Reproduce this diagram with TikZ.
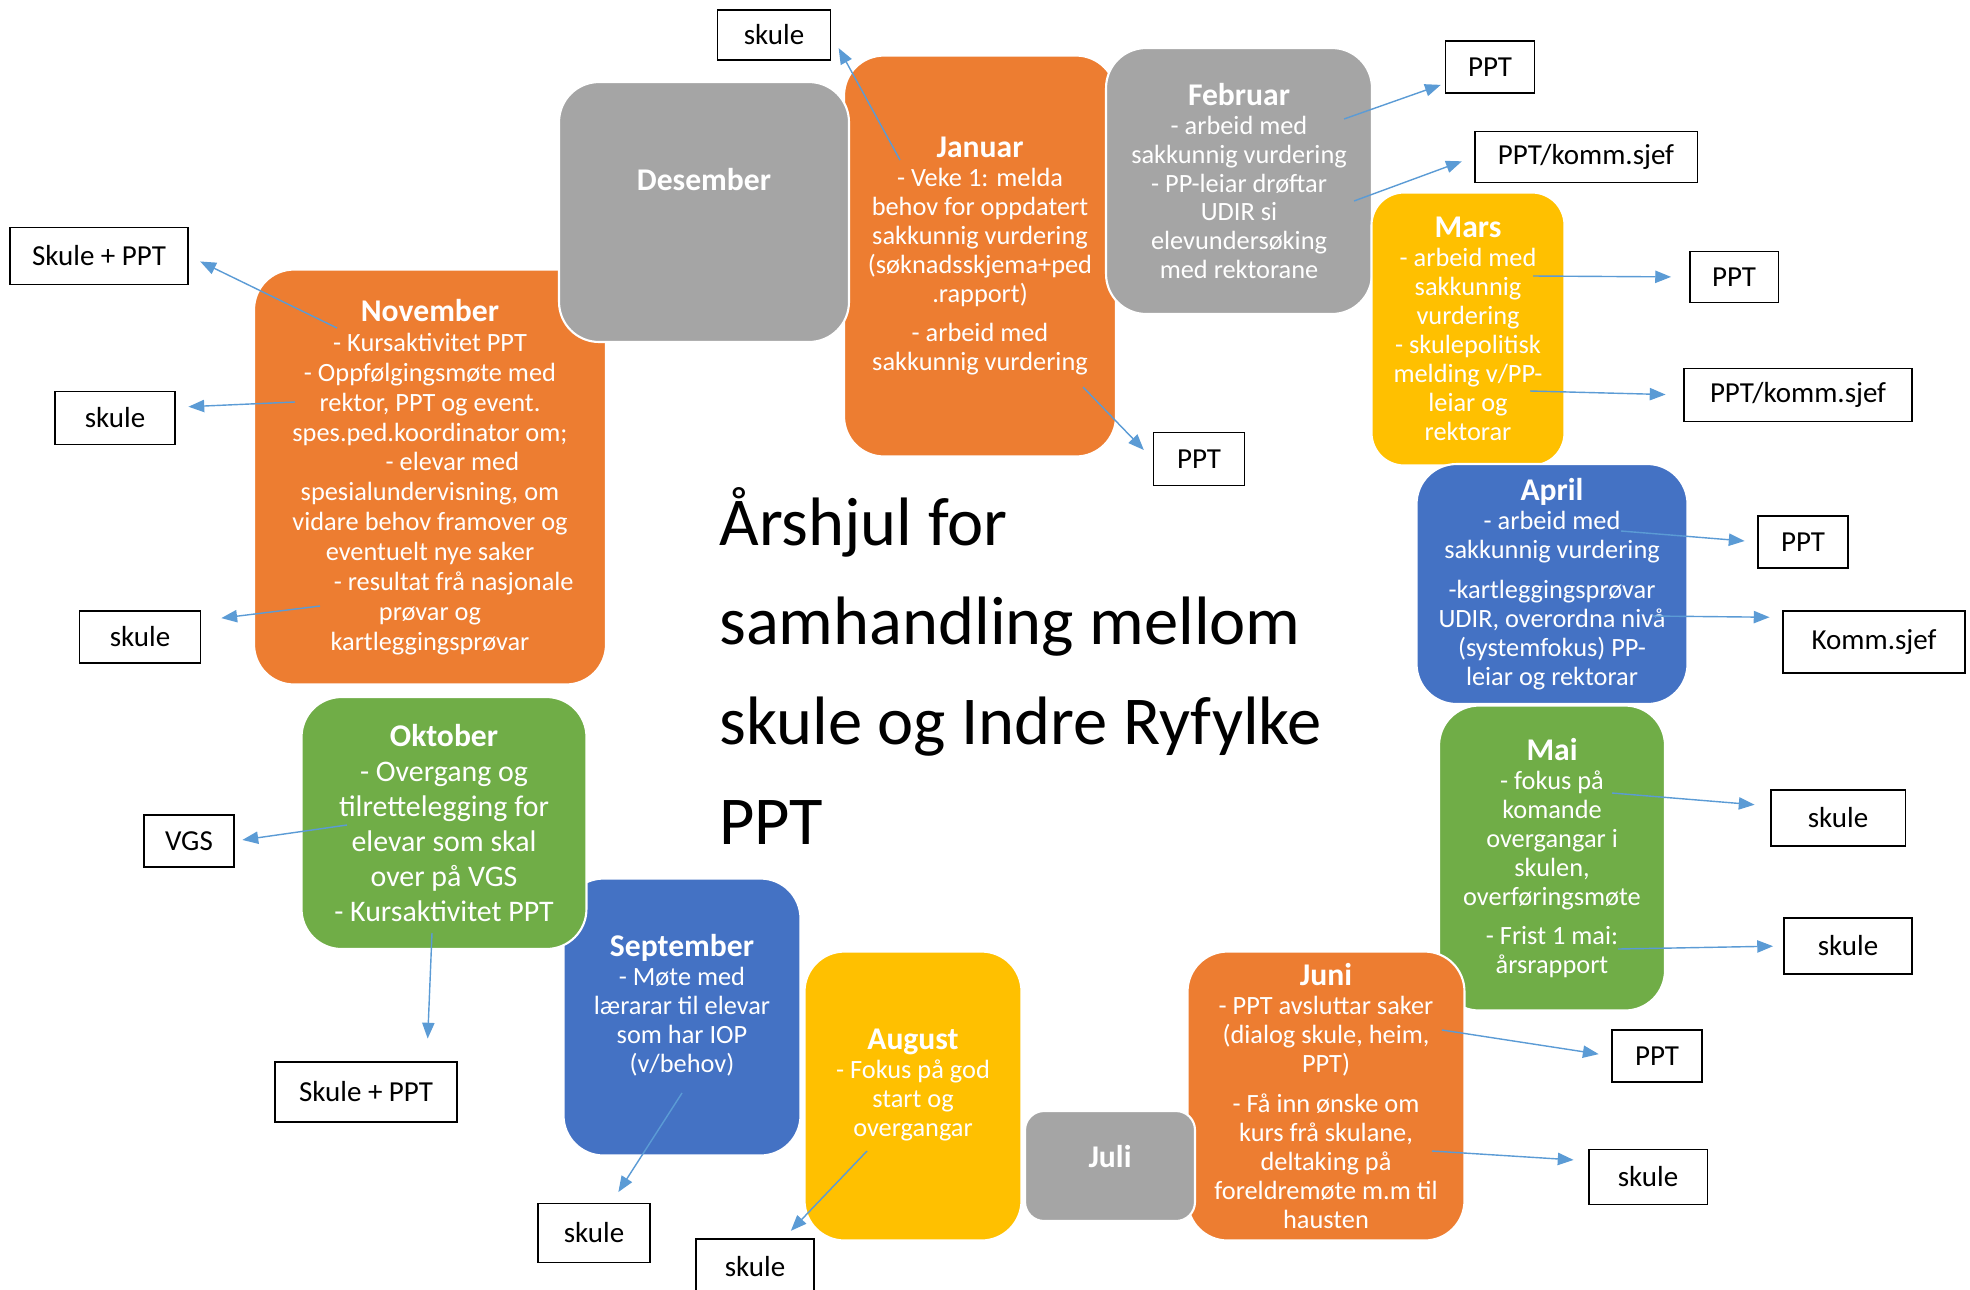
\documentclass[tikz,border=0pt]{standalone}
\usepackage{fontspec}
\setmainfont{Carlito}
\usetikzlibrary{arrows.meta}

\definecolor{cOrange}{HTML}{ED7D31}
\definecolor{cGray}{HTML}{A5A5A5}
\definecolor{cYellow}{HTML}{FFC000}
\definecolor{cBlue}{HTML}{4472C4}
\definecolor{cGreen}{HTML}{70AD47}
\definecolor{cArrow}{HTML}{5B9BD5}

\newcommand{\mth}[1]{{\fontsize{18}{21}\selectfont\bfseries #1}}

\begin{document}
\begin{tikzpicture}[
    x=0.02cm, y=-0.02cm,
    month/.style={rectangle, rounded corners=0.8cm, draw=white, line width=1.2pt, text=white, align=center, inner sep=0pt, font=\fontsize{15}{16.5}\selectfont},
    graybox/.style={month, fill=cGray},
    orangebox/.style={month, fill=cOrange},
    yellowbox/.style={month, fill=cYellow},
    bluebox/.style={month, fill=cBlue},
    greenbox/.style={month, fill=cGreen},
    tag/.style={rectangle, draw=black, line width=1.1pt, fill=white, inner sep=0pt, font=\fontsize{16.5}{20}\selectfont},
    arrow/.style={-{Triangle[length=9pt,width=7pt]}, draw=cArrow, line width=0.8pt}
]
\useasboundingbox (0,0) rectangle (1970,1289);

% months
\node[orangebox, minimum width=7.04cm, minimum height=8.3cm, font=\fontsize{15}{17}\selectfont] (nov) at (430,477) {\mth{November}\\- Kursaktivitet PPT\\- Oppfølgingsmøte med\\rektor, PPT og event.\\spes.ped.koordinator om;\\\hspace*{1.7em}- elevar med\\spesialundervisning, om\\vidare behov framover og\\eventuelt nye saker\\\hspace*{1.8em}- resultat frå nasjonale\\prøvar og\\kartleggingsprøvar};
\node[orangebox, minimum width=5.44cm, minimum height=8.02cm] (jan) at (980,256) {\mth{Januar}\\- Veke 1: melda\\behov for oppdatert\\sakkunnig vurdering\\(søknadsskjema+ped\\.rapport)\\[6pt]- arbeid med\\sakkunnig vurdering};
\node[graybox, minimum width=5.8cm, minimum height=5.2cm, text depth=1.3cm] (des) at (704,212) {\mth{Desember}};
\node[graybox, minimum width=5.32cm, minimum height=5.32cm] (feb) at (1239,181) {\mth{Februar}\\- arbeid med\\sakkunnig vurdering\\- PP-leiar drøftar\\UDIR si\\elevundersøking\\med rektorane};
\node[yellowbox, rounded corners=0.65cm, minimum width=3.86cm, minimum height=5.46cm] (mars) at (1468,329) {\mth{Mars}\\- arbeid med\\sakkunnig\\vurdering\\- skulepolitisk\\melding v/PP-\\leiar og\\rektorar};
\node[bluebox, minimum width=5.42cm, minimum height=4.8cm] (apr) at (1552,584) {\mth{April}\\- arbeid med\\sakkunnig vurdering\\[6pt]-kartleggingsprøvar\\UDIR, overordna nivå\\(systemfokus) PP-\\leiar og rektorar};
\node[greenbox, minimum width=4.52cm, minimum height=6.1cm] (mai) at (1552,858) {\mth{Mai}\\- fokus på\\komande\\overgangar i\\skulen,\\overføringsmøte\\[6pt]- Frist 1 mai:\\årsrapport};
\node[orangebox, minimum width=5.54cm, minimum height=5.78cm] (juni) at (1326,1096) {\mth{Juni}\\- PPT avsluttar saker\\(dialog skule, heim,\\PPT)\\[6pt]- Få inn ønske om\\kurs frå skulane,\\deltaking på\\foreldremøte m.m til\\hausten};
\node[graybox, rounded corners=0.38cm, minimum width=3.4cm, minimum height=2.2cm, text depth=0.4cm] (juli) at (1110,1166) {\mth{Juli}};
\node[yellowbox, minimum width=4.34cm, minimum height=5.78cm] (aug) at (913,1096) {\mth{August}\\- Fokus på god\\start og\\overgangar\\[-1pt]};
\node[bluebox, minimum width=4.74cm, minimum height=5.54cm] (sep) at (682,1017) {\mth{September}\\- Møte med\\lærarar til elevar\\som har IOP\\(v/behov)\\[-1pt]};
\node[greenbox, minimum width=5.7cm, minimum height=5.04cm, font=\fontsize{17}{20}\selectfont] (okt) at (444,823) {\mth{Oktober}\\- Overgang og\\tilrettelegging for\\elevar som skal\\over på VGS\\- Kursaktivitet PPT};

% title
\node[anchor=north west, align=left, inner sep=0pt, font=\fontsize{39}{56.7}\selectfont] (title) at (719,487) {Årshjul for\\samhandling mellom\\skule og Indre Ryfylke\\PPT};

% who
\node[tag, minimum width=2.26cm, minimum height=1.0cm] (skuleJan) at (774,35) {skule};
\node[tag, minimum width=1.82cm, minimum height=1.06cm] (pptJan) at (1199,459) {PPT};
\node[tag, minimum width=1.78cm, minimum height=1.04cm] (pptFeb) at (1490,67) {PPT};
\node[tag, minimum width=4.46cm, minimum height=1.02cm] (kommFeb) at (1586,157) {PPT/komm.sjef};
\node[tag, minimum width=1.78cm, minimum height=1.02cm] (pptMars) at (1734,277) {PPT};
\node[tag, minimum width=4.56cm, minimum height=1.06cm] (kommMars) at (1798,395) {PPT/komm.sjef};
\node[tag, minimum width=1.8cm, minimum height=1.04cm] (pptApr) at (1803,542) {PPT};
\node[tag, minimum width=3.64cm, minimum height=1.24cm] (kommApr) at (1874,642) {Komm.sjef};
\node[tag, minimum width=2.7cm, minimum height=1.12cm] (skuleMaiA) at (1838,818) {skule};
\node[tag, minimum width=2.56cm, minimum height=1.12cm] (skuleMaiB) at (1848,946) {skule};
\node[tag, minimum width=1.8cm, minimum height=1.04cm] (pptJuni) at (1657,1056) {PPT};
\node[tag, minimum width=2.38cm, minimum height=1.1cm] (skuleJuni) at (1648,1177) {skule};
\node[tag, minimum width=2.36cm, minimum height=1.12cm] (skuleAug) at (755,1267) {skule};
\node[tag, minimum width=2.24cm, minimum height=1.18cm] (skuleSep) at (594,1233) {skule};
\node[tag, minimum width=3.64cm, minimum height=1.2cm] (bothOkt) at (366,1092) {Skule + PPT};
\node[tag, minimum width=1.8cm, minimum height=1.04cm] (vgs) at (189,841) {VGS};
\node[tag, minimum width=2.42cm, minimum height=1.04cm] (skuleNovC) at (140,637) {skule};
\node[tag, minimum width=2.4cm, minimum height=1.06cm] (skuleNovB) at (115,418) {skule};
\node[tag, minimum width=3.56cm, minimum height=1.14cm] (bothNov) at (99,256) {Skule + PPT};

% arrow starts
\coordinate (janA) at (900,160);
\coordinate (janB) at (1083,387);
\coordinate (febA) at (1344,119);
\coordinate (febB) at (1354,201);
\coordinate (marsA) at (1533,276);
\coordinate (marsB) at (1530,391);
\coordinate (aprA) at (1621,531);
\coordinate (aprB) at (1652,616);
\coordinate (maiA) at (1612,793);
\coordinate (maiB) at (1618,949);
\coordinate (juniA) at (1442,1030);
\coordinate (juniB) at (1432,1151);
\coordinate (augA) at (867,1151);
\coordinate (sepA) at (682,1093);
\coordinate (oktA) at (347,825);
\coordinate (oktB) at (432,933);
\coordinate (novA) at (337,328);
\coordinate (novB) at (295,402);
\coordinate (novC) at (320,606);

\draw[arrow, shorten >=0.3cm] (janA) -- (skuleJan.east);
\draw[arrow, shorten >=0.25cm] (janB) -- (pptJan.west);
\draw[arrow, shorten >=0.08cm] (febA) -- (pptFeb.200);
\draw[arrow, shorten >=0.25cm] (febB) -- (kommFeb.west);
\draw[arrow, shorten >=0.35cm] (marsA) -- (pptMars.west);
\draw[arrow, shorten >=0.35cm] (marsB) -- (kommMars.west);
\draw[arrow, shorten >=0.25cm] (aprA) -- (pptApr.west);
\draw[arrow, shorten >=0.25cm] (aprB) -- (kommApr.165);
\draw[arrow, shorten >=0.3cm] (maiA) -- (skuleMaiA.170);
\draw[arrow, shorten >=0.2cm] (maiB) -- (skuleMaiB.west);
\draw[arrow, shorten >=0.25cm] (juniA) -- (pptJuni.west);
\draw[arrow, shorten >=0.28cm] (juniB) -- (skuleJuni.165);
\draw[arrow, shorten >=0.2cm] (augA) -- (skuleAug.45);
\draw[arrow, shorten >=0.25cm] (sepA) -- (skuleSep.60);
\draw[arrow, shorten >=0.45cm] (oktB) -- (bothOkt.27);
\draw[arrow, shorten >=0.15cm] (oktA) -- (vgs.east);
\draw[arrow, shorten >=0.4cm] (novC) -- (skuleNovC.15);
\draw[arrow, shorten >=0.25cm] (novB) -- (skuleNovB.10);
\draw[arrow, shorten >=0.25cm] (novA) -- (bothNov.east);

\end{tikzpicture}
\end{document}
